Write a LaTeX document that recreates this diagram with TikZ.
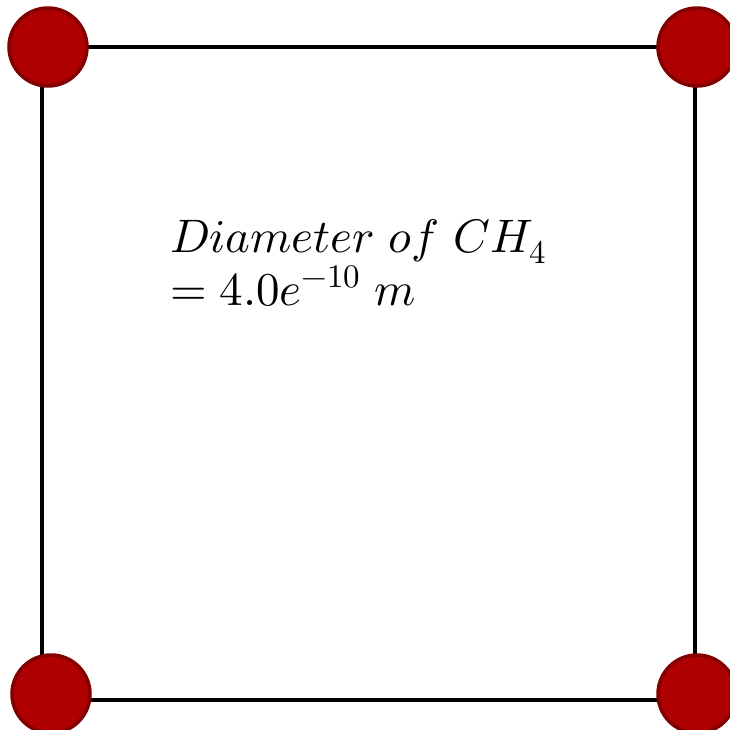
\documentclass[tikz,border=0pt]{standalone}
\usepackage{unicode-math}
\setmathfont{Latin Modern Math}
\definecolor{atomfill}{HTML}{AE0000}
\definecolor{atomdraw}{HTML}{820000}
\begin{document}
\begin{tikzpicture}[x=1pt,y=-1pt,
  atom/.style={circle,fill=atomfill,draw=atomdraw,line width=3.5pt,minimum size=78pt,inner sep=0pt},
  edge/.style={line width=3.8pt,black},
  lbl/.style={anchor=base west,inner sep=0pt,font=\fontsize{47}{53}\selectfont}]
\useasboundingbox (0,0) rectangle (730,729);
\coordinate (c1) at (42,47);
\coordinate (c2) at (695,47);
\coordinate (c3) at (695,700);
\coordinate (c4) at (42,700);
\draw[edge] (c1) -- (c2) -- (c3) -- (c4) -- cycle;
\node[atom] (a1) at (48,47) {};
\node[atom] (a2) at (697,47) {};
\node[atom] (a3) at (697,694) {};
\node[atom] (a4) at (51,694) {};
\node[lbl] (t1) at (170,252) {$Diameter\ of\ CH_4$};
\node[lbl] (t2) at (170,305) {$= 4.0e^{-10}\ m$};
\end{tikzpicture}
\end{document}
